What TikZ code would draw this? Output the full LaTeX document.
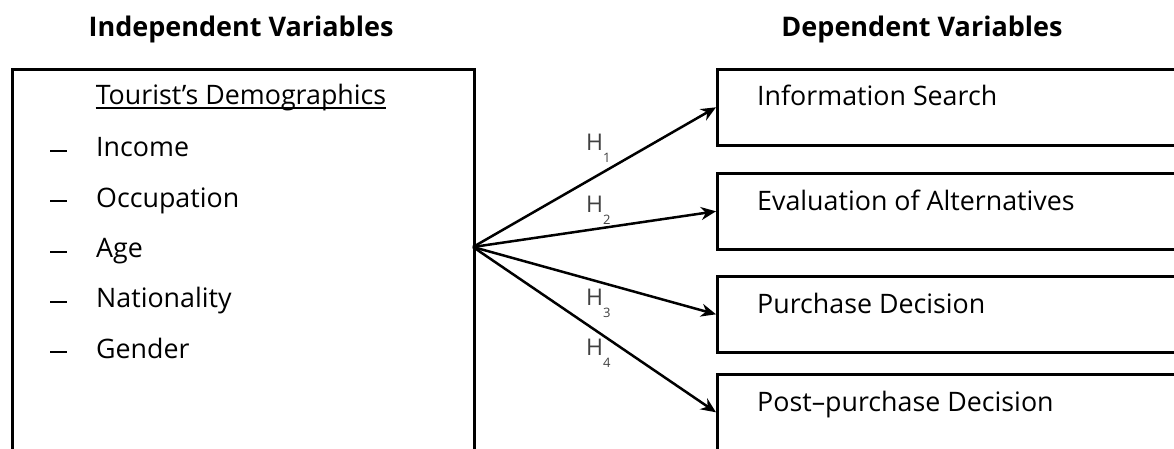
\documentclass[tikz,border=0pt]{standalone}
\usepackage{fontspec}
\setmainfont{Open Sans}
\usetikzlibrary{arrows.meta, positioning}

\newcommand{\hyplabel}[1]{H\raisebox{-12pt}{\fontsize{13}{13}\selectfont #1}}

\begin{document}
\begin{tikzpicture}[
    x = 1pt, y = -1pt,
    > = {Stealth[length=15pt, width=13pt]},
    varbox/.style   = {draw, line width=2.6pt, anchor=north west, inner sep=0pt},
    depbox/.style   = {varbox, minimum width=520pt, minimum height=76pt},
    title/.style    = {font=\fontsize{27}{30}\selectfont\bfseries, anchor=base},
    item/.style     = {font=\fontsize{26.8}{30}\selectfont, anchor=base west, inner sep=0pt},
    flow/.style     = {->, line width=2.5pt},
    hyp/.style      = {font=\fontsize{23}{26}\selectfont, text=black!75, anchor=base west, inner sep=0pt},
]
\clip (0,0) rectangle (1174,449);

% --------------------------------------------- titles --------------------------------------------
\node[title] (indtitle) at (241,37) {Independent Variables};
\node[title] (deptitle) at (922,37) {Dependent Variables};

% ------------------------------------------ independent ------------------------------------------
\node[varbox, minimum width=462pt, minimum height=420pt] (demo) at (11,68) {};
\node[item, anchor=base] (demotitle) at (241,105) {Tourist’s Demographics};
\draw[line width=1.2pt] ([yshift=-3pt]demotitle.base west) -- ([yshift=-3pt]demotitle.base east);
\foreach \name/\txt [count=\i from 0] in {inc/Income, occ/Occupation, age/Age, nat/Nationality, gen/Gender} {
    \node[item] (dash\name) at (50,157+50.3*\i) {\rule[5pt]{17pt}{2pt}};
    \node[item] (\name) at (96,157+50.3*\i) {\txt};
}
\coordinate (src) at (473,247);

% ------------------------------------------- dependent -------------------------------------------
\node[depbox] (info) at (716,68)  {};
\node[depbox] (eval) at (716,172) {};
\node[depbox] (purc) at (716,275) {};
\node[depbox] (post) at (716,373) {};

\node[item] (infotxt) at ([xshift=41pt, yshift=-38pt]info.north west) {Information Search};
\node[item] (evaltxt) at ([xshift=41pt, yshift=-38pt]eval.north west) {Evaluation of Alternatives};
\node[item] (purctxt) at ([xshift=41pt, yshift=-38pt]purc.north west) {Purchase Decision};
\node[item] (posttxt) at ([xshift=41pt, yshift=-38pt]post.north west) {Post–purchase Decision};

% --------------------------------------------- arrows ---------------------------------------------
\draw[flow] (src) -- (info.west);
\draw[flow] (src) -- (eval.west);
\draw[flow] (src) -- (purc.west);
\draw[flow] (src) -- (post.west);

\node[hyp] (h1) at (586,151) {\hyplabel{1}};
\node[hyp] (h2) at (586,212) {\hyplabel{2}};
\node[hyp] (h3) at (586,305) {\hyplabel{3}};
\node[hyp] (h4) at (586,355) {\hyplabel{4}};

\end{tikzpicture}
\end{document}
